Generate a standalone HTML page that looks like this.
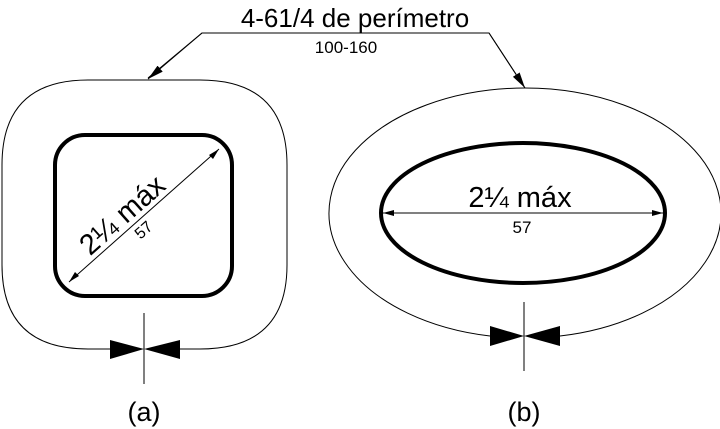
<!DOCTYPE html>
<html><head><meta charset="utf-8"><style>
html,body{margin:0;padding:0;background:#fff}
svg{display:block}
text{font-family:"Liberation Sans",Arial,sans-serif;fill:#000}
</style></head><body>
<svg width="720" height="429" viewBox="0 0 720 429" xmlns="http://www.w3.org/2000/svg">
<defs>
<marker id="al" markerWidth="16" markerHeight="8" refX="16" refY="4" orient="auto" markerUnits="userSpaceOnUse"><path d="M0,0 L16,4 L0,8 z" fill="#000"/></marker>
</defs>
<text x="355" y="27" font-size="26" text-anchor="middle">4-61/4 de perímetro</text>
<text x="346" y="53" font-size="17" text-anchor="middle">100-160</text>
<polyline points="148,78 202,33 489,33 525,88" fill="none" stroke="#000" stroke-width="1"/>
<line x1="202" y1="33" x2="148" y2="79" stroke="#000" marker-end="url(#al)"/>
<line x1="489" y1="33" x2="525" y2="88" stroke="#000" marker-end="url(#al)"/>
<path d="M110,349 L88,349 Q2,349 2,265 L2,165 Q2,80 88,80 L200,80 Q287,80 287,165 L287,265 Q287,349 200,349 L180,349" fill="none" stroke="#000" stroke-width="1"/>
<polygon points="110,340 144,349 110,359" fill="#000"/>
<polygon points="180,340 144,349 180,359" fill="#000"/>
<line x1="144" y1="313" x2="144" y2="384" stroke="#000"/>
<rect x="55" y="135" width="177" height="161" rx="30" fill="none" stroke="#000" stroke-width="4"/>
<line x1="69" y1="282" x2="219" y2="149" stroke="#000" stroke-width="1"/>
<polygon points="69,282 75,272 79,276" fill="#000"/>
<polygon points="219,149 213,159 209,155" fill="#000"/>
<g transform="translate(132,226) rotate(-41.6)">
<text x="0" y="-5" font-size="29" text-anchor="middle">2¼ máx</text>
<text x="6" y="16" font-size="16" text-anchor="middle">57</text>
</g>
<path d="M490,336 A196,125 0 1 1 560,336" fill="none" stroke="#000" stroke-width="1"/>
<polygon points="490,326 524,336 490,346" fill="#000"/>
<polygon points="560,326 524,336 560,346" fill="#000"/>
<line x1="524" y1="302" x2="524" y2="371" stroke="#000"/>
<ellipse cx="523" cy="213" rx="142" ry="70" fill="none" stroke="#000" stroke-width="4"/>
<line x1="383" y1="213" x2="663" y2="213" stroke="#000"/>
<polygon points="383,213 394,210 394,216" fill="#000"/>
<polygon points="663,213 652,210 652,216" fill="#000"/>
<text x="520" y="207" font-size="29" text-anchor="middle">2¼ máx</text>
<text x="522" y="233" font-size="17" text-anchor="middle">57</text>
<text x="144" y="421" font-size="27" text-anchor="middle">(a)</text>
<text x="524" y="421" font-size="27" text-anchor="middle">(b)</text>
</svg>
</body></html>
